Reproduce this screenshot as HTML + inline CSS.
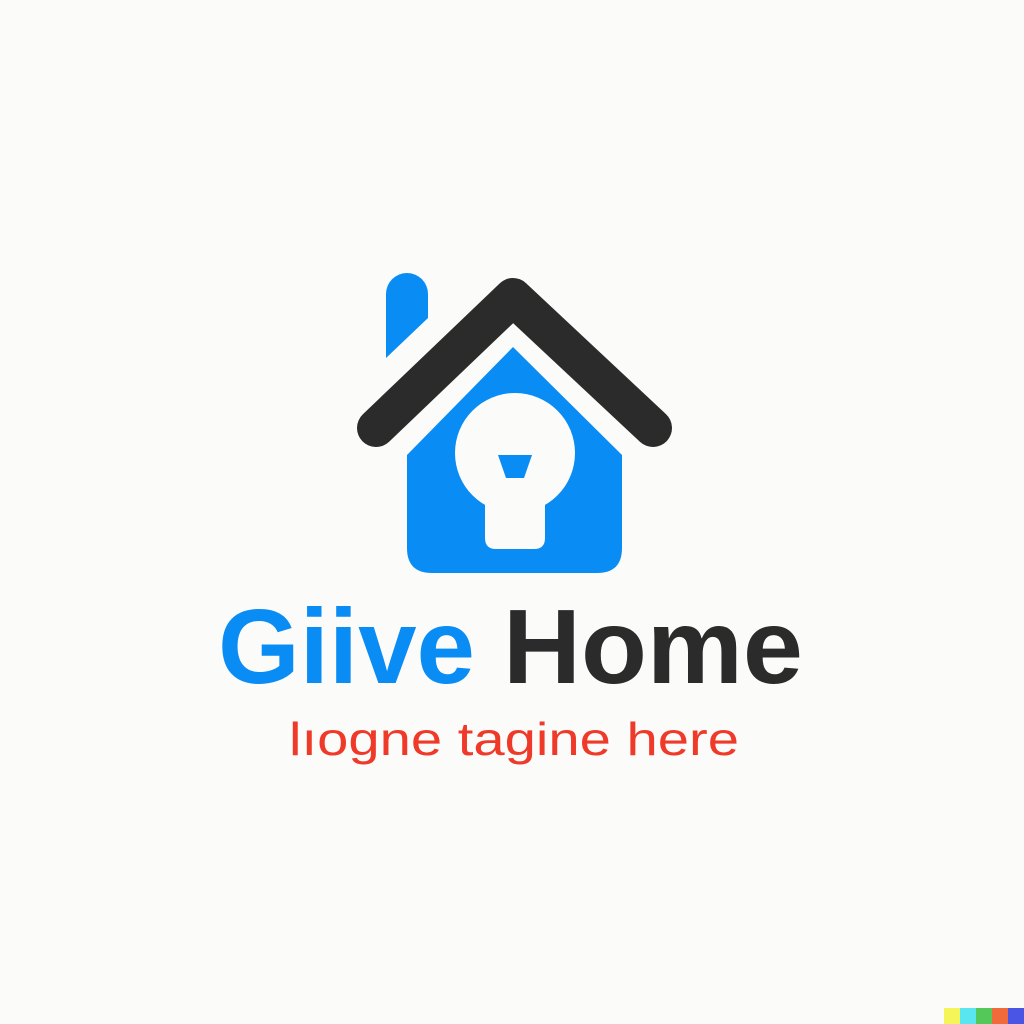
<!DOCTYPE html>
<html><head><meta charset="utf-8"><style>
html,body{margin:0;padding:0;background:#fbfbfa;}
svg{display:block}
</style></head><body>
<svg width="1024" height="1024" viewBox="0 0 1024 1024">
<rect width="1024" height="1024" fill="#fbfbfa"/>
<path d="M386,294 A21,21 0 0 1 428,294 L428,318 L386,358 Z" fill="#0a8cf5"/>
<path d="M407,455 L513,347 L622,455 L622,548 Q622,573 597,573 L432,573 Q407,573 407,548 Z" fill="#0a8cf5"/>
<polyline points="376,428 513,297 653,428" fill="none" stroke="#2b2b2b" stroke-width="38" stroke-linecap="round" stroke-linejoin="round"/>
<circle cx="515" cy="453" r="60" fill="#fbfbfa"/>
<path d="M485,490 L545,490 L545,538 Q545,549 534,549 L496,549 Q485,549 485,538 Z" fill="#fbfbfa"/>
<polygon points="498,455 532,455 524,478 506,478" fill="#0a8cf5"/>
<text x="218" y="683" font-family="Liberation Sans, sans-serif" font-size="106" font-weight="bold" fill="#0a8cf5" textLength="257" lengthAdjust="spacingAndGlyphs">Giive</text>
<text x="503" y="683" font-family="Liberation Sans, sans-serif" font-size="106" font-weight="bold" fill="#2b2b2b" textLength="300" lengthAdjust="spacingAndGlyphs">Home</text>
<text x="289" y="755" font-family="Liberation Sans, sans-serif" font-size="46" fill="#ef3a2a" textLength="450" lengthAdjust="spacingAndGlyphs">lıogne tagine here</text>
<rect x="944" y="1008" width="16" height="16" fill="#f5f55a"/>
<rect x="960" y="1008" width="16" height="16" fill="#5ae6f0"/>
<rect x="976" y="1008" width="16" height="16" fill="#55c85a"/>
<rect x="992" y="1008" width="16" height="16" fill="#f06a3c"/>
<rect x="1008" y="1008" width="16" height="16" fill="#4a55e6"/>
</svg>
</body></html>
